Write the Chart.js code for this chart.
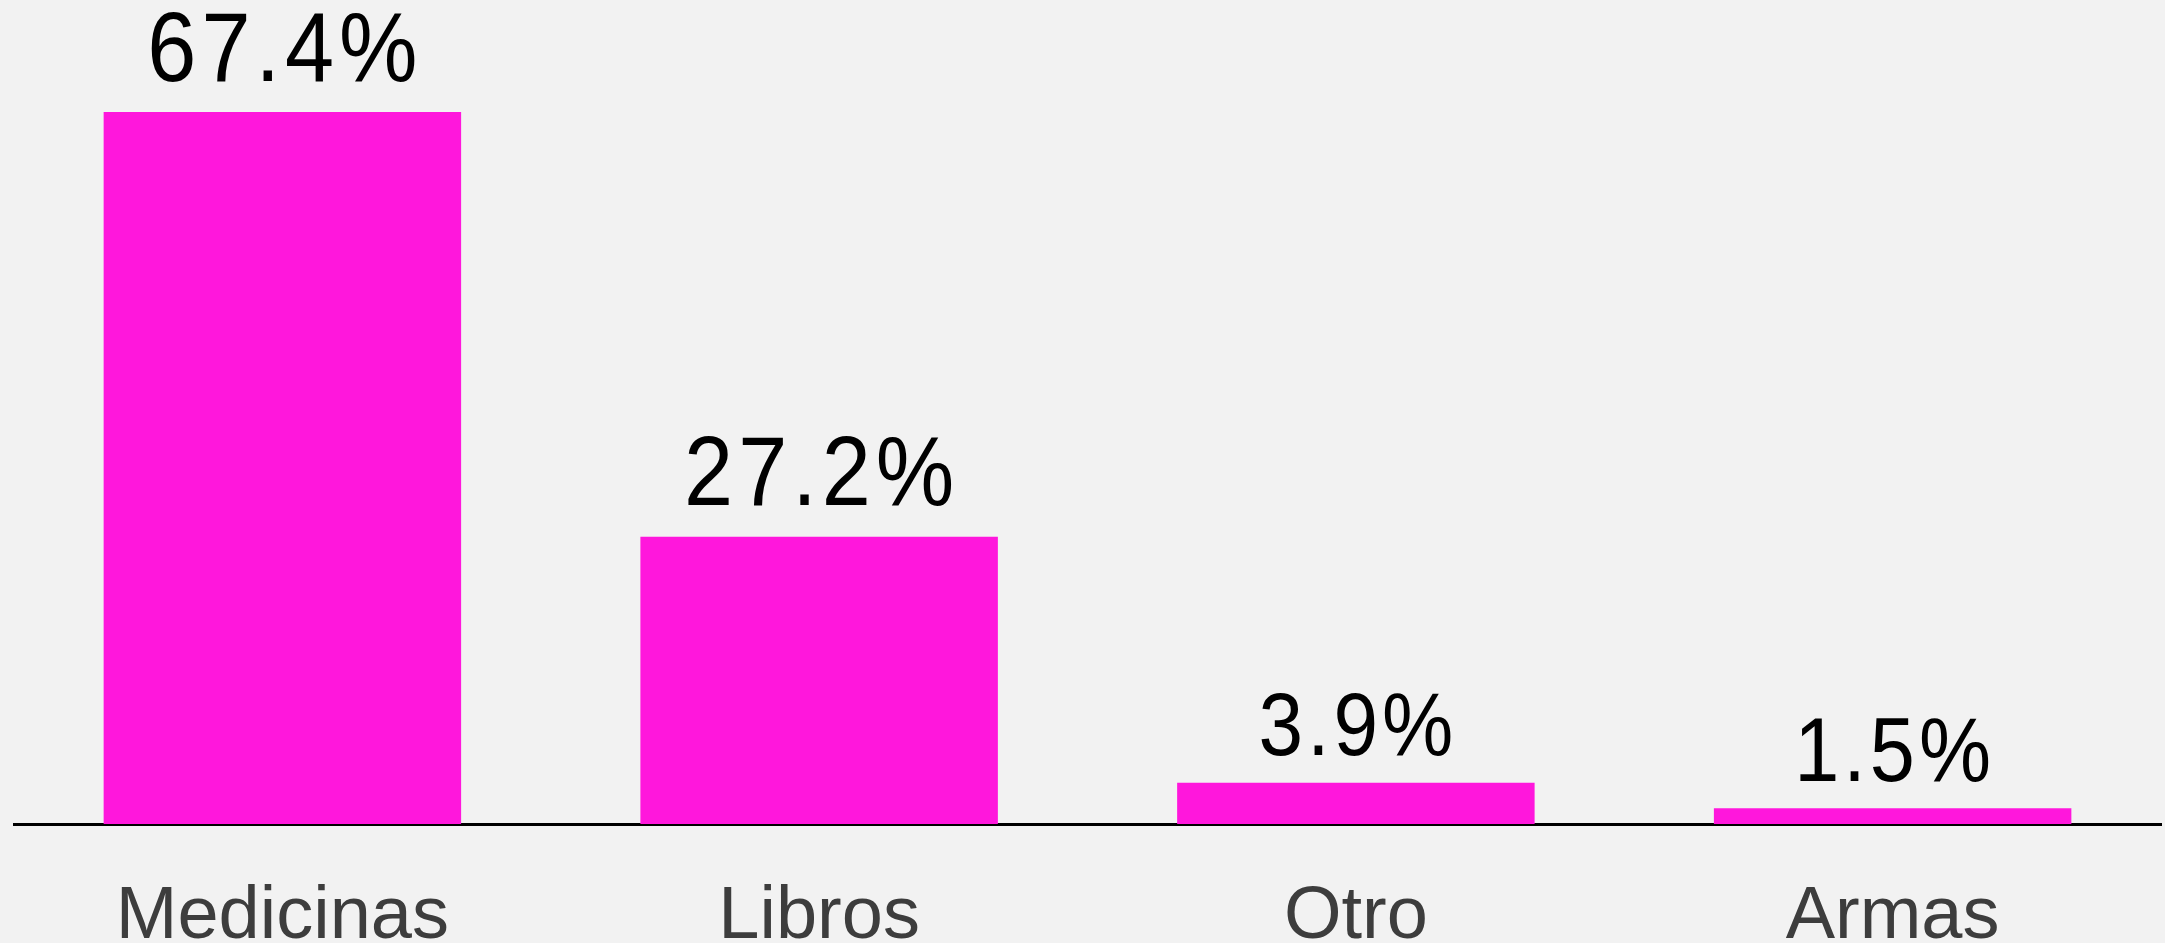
<!DOCTYPE html>
<html>
<head>
<meta charset="utf-8">
<script src="https://cdn.jsdelivr.net/npm/chart.js@4/dist/chart.umd.min.js"></script>
<style>
  html, body { margin: 0; padding: 0; background: #f2f2f2; }
  #wrap { width: 2165px; height: 943px; position: relative; }
</style>
</head>
<body>
<div id="wrap"><canvas id="c"></canvas></div>
<script>
const categories = ["Medicinas", "Libros", "Otro", "Armas"];
const values = [67.4, 27.2, 3.9, 1.5];
const valueLabels = ["67.4%", "27.2%", "3.9%", "1.5%"];

const FONT = "'Liberation Sans', Arial, sans-serif";

// label styling (not data): font size, gap above bar, horizontal glyph scale, extra tracking (px)
const LABEL_STYLE = [
  { size: 98, gap: 31, sx: 0.9, track: 5 },
  { size: 98, gap: 32, sx: 0.9, track: 5 },
  { size: 89, gap: 28, sx: 0.9, track: 4 },
  { size: 90, gap: 27, sx: 0.9, track: 4 }
];

function drawTracked(ctx, text, cx, y, st) {
  ctx.font = st.size + "px " + FONT;
  const chars = Array.from(text);
  const adv = chars.map(ch => ctx.measureText(ch).width * st.sx);
  const total = adv.reduce((a, b) => a + b, 0) + st.track * (chars.length - 1);
  let x = cx - total / 2;
  chars.forEach((ch, i) => {
    ctx.save();
    ctx.translate(x, y);
    ctx.scale(st.sx, 1);
    ctx.textAlign = "left";
    ctx.textBaseline = "alphabetic";
    ctx.fillText(ch, 0, 0);
    ctx.restore();
    x += adv[i] + st.track;
  });
}

const valueLabelPlugin = {
  id: 'valueLabels',
  afterDatasetsDraw(chart) {
    const ctx = chart.ctx;
    const meta = chart.getDatasetMeta(0);
    meta.data.forEach((bar, i) => {
      const st = LABEL_STYLE[i];
      ctx.save();
      ctx.fillStyle = "#000000";
      drawTracked(ctx, valueLabels[i], bar.x, bar.y - st.gap, st);
      ctx.restore();
    });
  }
};

const bgPlugin = {
  id: 'bg',
  beforeDraw(chart) {
    const ctx = chart.ctx;
    ctx.save();
    ctx.fillStyle = "#f2f2f2";
    ctx.fillRect(0, 0, chart.width, chart.height);
    ctx.restore();
  }
};

new Chart(document.getElementById('c'), {
  type: 'bar',
  data: {
    labels: categories,
    datasets: [{
      data: values,
      backgroundColor: "#ff17dc",
      borderWidth: 0,
      categoryPercentage: 1.0,
      barPercentage: 0.666
    }]
  },
  options: {
    responsive: true,
    maintainAspectRatio: false,
    animation: false,
    layout: { padding: { left: 14, right: 4, top: 0, bottom: 0 } },
    plugins: {
      legend: { display: false },
      tooltip: { enabled: false },
      title: { display: false }
    },
    scales: {
      x: {
        grid: { display: false, drawTicks: false, tickLength: 0 },
        border: { display: true, color: "#000000", width: 3 },
        ticks: {
          color: "#3d3d3d",
          font: { family: FONT, size: 74 },
          padding: 49,
          maxRotation: 0,
          autoSkip: false
        },
        afterFit(scale) { scale.height = 119; }
      },
      y: {
        display: false,
        min: 0,
        max: 78
      }
    }
  },
  plugins: [bgPlugin, valueLabelPlugin]
});
</script>
</body>
</html>
